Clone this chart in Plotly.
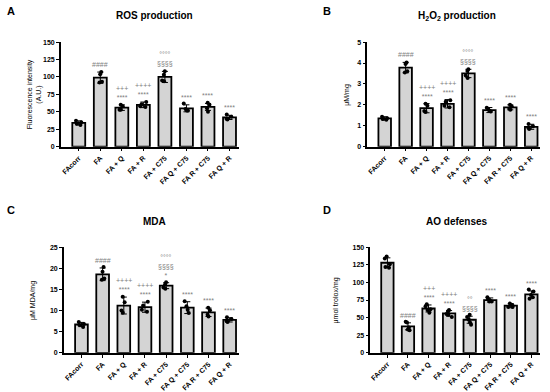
import plotly.graph_objects as go

categories = ["FAcorr", "FA", "FA + Q", "FA + R", "FA + C75", "FA Q + C75", "FA R + C75", "FA Q + R"]

# Panel A: ROS production
ros_mean = [34, 99, 56, 60, 100, 55, 57, 42]
ros_sd = [3, 8, 4, 4, 8, 5, 5, 3]
ros_pts = [[31, 33, 35, 37], [107, 104, 93, 92], [60, 58, 53, 53], [64, 61, 57, 58],
           [108, 103, 95, 94], [62, 54, 52, 52], [63, 60, 55, 50], [46, 43, 40, 39]]
ros_sig = ["", "####", "+++<br>****", "++++<br>****", "°°°°<br>§§§§", "****", "****", "****"]

# Panel B: H2O2 production
h2o2_mean = [1.35, 3.78, 1.84, 2.05, 3.5, 1.75, 1.88, 0.95]
h2o2_sd = [0.08, 0.25, 0.22, 0.2, 0.2, 0.12, 0.12, 0.12]
h2o2_pts = [[1.43, 1.36, 1.32, 1.29], [4.02, 3.95, 3.6, 3.55], [2.05, 1.95, 1.7, 1.66],
            [2.22, 2.15, 1.95, 1.88], [3.7, 3.62, 3.4, 3.28], [1.86, 1.76, 1.7, 1.68],
            [2.0, 1.92, 1.83, 1.77], [1.08, 0.98, 0.9, 0.84]]
h2o2_sig = ["", "####", "++++<br>****", "++++<br>****", "°°°°<br>§§§§", "****", "****", "****"]

# Panel C: MDA
mda_mean = [6.7, 18.6, 11.2, 10.8, 15.9, 10.7, 9.6, 7.8]
mda_sd = [0.5, 1.5, 2.0, 1.2, 0.7, 1.4, 1.0, 0.5]
mda_pts = [[7.3, 6.8, 6.6, 6.1], [20.3, 19.2, 17.6, 17.3], [13.3, 12.0, 10.0, 9.5],
           [12.1, 11.2, 10.2, 9.7], [16.7, 16.2, 15.5, 15.2], [12.2, 11.0, 10.2, 9.4],
           [10.7, 10.1, 9.0, 8.6], [8.4, 8.0, 7.5, 7.3]]
mda_sig = ["", "####", "++++<br>****", "++++<br>****", "°°°°<br>§§§§<br>*", "****", "****", "****"]

# Panel D: AO defenses
ao_mean = [128, 37.6, 63, 56, 47, 75, 67, 83]
ao_sd = [7, 5, 5, 4, 5, 3, 3, 5]
ao_pts = [[137, 134, 126, 122, 121], [44, 43, 36, 33, 32], [69, 66, 62, 61, 57],
          [61, 59, 55, 54, 51], [54, 51, 47, 43, 40], [79, 76, 74, 73, 73],
          [70, 68, 67, 65, 65], [90, 87, 82, 79, 77]]
ao_sig = ["", "####", "+++<br>****", "++++<br>****", "°°<br>§§§§", "****", "****", "****"]

y_ranges = [[0, 150], [0, 5], [0, 25], [0, 150]]
y_dticks = [25, 1, 5, 25]
titles = ["ROS production", "H<sub>2</sub>O<sub>2</sub> production", "MDA", "AO defenses"]
y_titles = ["Fluorescence intensity<br>(A.U.)", "μM/mg", "μM MDA/mg", "μmol trolox/mg"]
letters = ["A", "B", "C", "D"]

panels = [
    (ros_mean, ros_sd, ros_pts, ros_sig),
    (h2o2_mean, h2o2_sd, h2o2_pts, h2o2_sig),
    (mda_mean, mda_sd, mda_pts, mda_sig),
    (ao_mean, ao_sd, ao_pts, ao_sig),
]

W, H = 550, 392
# pixel boxes of each plot area: (x0, x1, ytop, ybottom)
boxes = [(60, 238, 39, 146), (367, 540, 39, 146), (63, 238, 249, 357), (370, 540, 249, 357)]
title_pos = [(154, 12), (457, 12), (154, 223), (457, 223)]
letter_pos = [(10, 7), (327, 7), (10, 211), (327, 211)]
ytitle_x = [33, 347, 32, 336]

FONT = "Arial, Liberation Sans, sans-serif"
fig = go.Figure()
annotations = []

for k, (mean, sd, pts, sig) in enumerate(panels):
    xa = "x" if k == 0 else f"x{k+1}"
    ya = "y" if k == 0 else f"y{k+1}"
    fig.add_trace(go.Bar(
        x=categories, y=mean, xaxis=xa, yaxis=ya, width=0.6,
        marker=dict(color="#d4d4d4", line=dict(color="black", width=1.8)),
        error_y=dict(type="data", array=sd, visible=True, color="black", thickness=1, width=3),
        showlegend=False,
    ))
    bx, by = [], []
    for c, p in zip(categories, pts):
        bx += [c] * len(p)
        by += p
    fig.add_trace(go.Box(
        x=bx, y=by, xaxis=xa, yaxis=ya, boxpoints="all", jitter=0.6, pointpos=0,
        fillcolor="rgba(0,0,0,0)", line=dict(width=0, color="rgba(0,0,0,0)"),
        marker=dict(color="black", size=4), width=0.5, showlegend=False,
    ))
    x0, x1, yt, yb = boxes[k]
    xd = [x0 / W, x1 / W]
    yd = [1 - yb / H, 1 - yt / H]
    axis_common = dict(showline=True, linecolor="black", linewidth=1.5, ticks="outside",
                       ticklen=3, tickcolor="black", showgrid=False, zeroline=False,
                       tickfont=dict(family=FONT, size=7, color="black", weight="bold"))
    fig.layout[f"xaxis{'' if k == 0 else k+1}"] = dict(
        domain=xd, anchor=ya, range=[-0.83, 7.42], tickangle=-45, **axis_common)
    fig.layout[f"yaxis{'' if k == 0 else k+1}"] = dict(
        domain=yd, anchor=xa, range=y_ranges[k], dtick=y_dticks[k], **axis_common)

    for c, m, s, t in zip(categories, mean, sd, sig):
        if t:
            annotations.append(dict(x=c, y=m + s, xref=xa, yref=ya, text=t, showarrow=False,
                                    yanchor="bottom", yshift=2,
                                    font=dict(family=FONT, size=7, color="#808080")))
    tx, ty = title_pos[k]
    annotations.append(dict(x=tx / W, y=1 - ty / H, xref="paper", yref="paper", text=titles[k],
                            showarrow=False, xanchor="center", yanchor="middle",
                            font=dict(family=FONT, size=10, color="black", weight="bold")))
    lx, ly = letter_pos[k]
    annotations.append(dict(x=lx / W, y=1 - ly / H, xref="paper", yref="paper", text=letters[k],
                            showarrow=False, xanchor="center", yanchor="middle",
                            font=dict(family=FONT, size=11, color="black", weight="bold")))
    annotations.append(dict(x=ytitle_x[k] / W, y=1 - (yt + yb) / 2 / H, xref="paper", yref="paper",
                            text=y_titles[k], showarrow=False, textangle=-90,
                            xanchor="center", yanchor="middle",
                            font=dict(family=FONT, size=7, color="black")))

fig.update_layout(width=W, height=H, margin=dict(l=0, r=0, t=0, b=0),
                  paper_bgcolor="white", plot_bgcolor="white",
                  annotations=annotations, bargap=0.4)
fig.write_html("out.html", config={"displayModeBar": False},
               post_script="document.body.style.margin='0';document.body.style.overflow='hidden';")
